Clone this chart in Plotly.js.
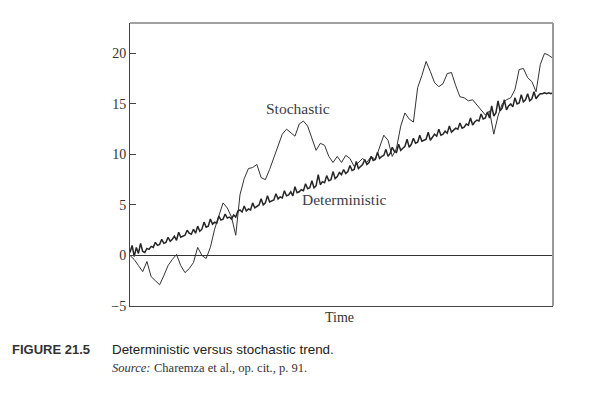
<!DOCTYPE html>
<html>
<head>
<meta charset="utf-8">
<script src="https://cdn.plot.ly/plotly-3.0.1.min.js"></script>
<style>html,body{margin:0;padding:0;background:#fff;}#chart{width:610px;height:397px;}</style>
</head>
<body>
<div id="chart"></div>
<script>
// Stochastic trend: one value every 2 time units (t = 0..200)
const stochasticTime = Array.from({length: 101}, (_, i) => i * 2);
const stochasticValues = [
  0.0, -0.4, -1.0, -1.6, -0.6, -2.1, -2.5, -2.9, -2.0, -1.0,
  -0.4, 0.1, -1.0, -1.7, -1.3, -0.7, 0.8, 0.0, -0.3, 0.8,
  2.6, 3.9, 5.2, 4.7, 3.8, 2.0, 6.0, 7.6, 8.6, 8.7,
  9.0, 7.7, 7.5, 8.5, 9.6, 10.8, 12.0, 12.5, 12.1, 11.8,
  13.0, 13.3, 12.8, 11.7, 10.4, 11.1, 10.9, 9.8, 9.2, 9.8,
  9.2, 9.9, 9.6, 8.8, 9.2, 9.6, 9.2, 9.8, 9.5, 10.8,
  11.9, 11.4, 9.8, 10.6, 12.8, 14.1, 13.5, 13.2, 16.6, 17.8,
  19.2, 18.2, 17.1, 16.7, 17.0, 18.0, 18.1, 16.8, 15.7, 15.6,
  15.3, 15.4, 14.9, 14.4, 13.9, 14.3, 12.0, 13.8, 15.0, 15.4,
  15.6, 16.4, 18.4, 18.5, 17.6, 17.2, 16.2, 18.9, 20.0, 19.8,
  19.5
];
// Deterministic trend: one value every time unit (t = 0..200)
const deterministicTime = Array.from({length: 201}, (_, i) => i);
const deterministicValues = [
  0.3, 1.0, -0.1, 0.8, 0.2, 1.2, 0.4, 0.3, 0.7, 0.6,
  0.9, 0.8, 1.3, 1.0, 1.1, 1.6, 1.2, 1.3, 1.8, 1.4,
  1.6, 1.9, 1.5, 2.3, 1.8, 1.9, 2.0, 2.5, 2.2, 2.1,
  2.6, 2.2, 2.9, 2.4, 2.6, 3.3, 2.8, 2.9, 3.6, 3.1,
  3.3, 3.2, 3.9, 3.5, 3.6, 4.1, 3.7, 3.8, 3.6, 4.0,
  3.8, 4.4, 4.5, 4.3, 4.9, 4.4, 4.6, 4.5, 5.2, 4.7,
  4.9, 5.0, 5.6, 5.0, 5.2, 5.9, 5.3, 5.4, 5.5, 6.1,
  5.6, 5.8, 5.7, 6.4, 5.9, 6.0, 6.3, 5.9, 6.8, 6.2,
  6.3, 6.5, 6.4, 7.1, 6.6, 6.7, 7.4, 6.7, 6.9, 8.0,
  7.0, 7.3, 7.2, 7.9, 7.4, 7.5, 8.3, 7.6, 7.8, 8.2,
  8.0, 8.5, 8.1, 8.3, 8.9, 8.4, 8.5, 9.3, 8.6, 8.8,
  9.0, 9.5, 9.0, 9.2, 9.8, 9.4, 9.5, 10.2, 9.6, 9.8,
  9.9, 10.5, 9.8, 10.1, 10.7, 10.3, 10.2, 11.0, 10.4, 10.6,
  10.8, 11.5, 10.7, 11.0, 11.6, 11.1, 11.2, 11.9, 11.3, 11.4,
  11.5, 12.2, 11.4, 11.7, 12.0, 11.8, 12.5, 11.9, 12.0, 12.3,
  12.1, 12.8, 12.2, 12.4, 12.6, 12.5, 13.1, 12.6, 12.7, 13.0,
  12.9, 13.6, 12.9, 13.2, 13.4, 13.3, 14.0, 13.5, 13.6, 14.2,
  13.6, 14.8, 13.8, 14.1, 15.3, 14.3, 14.6, 15.4, 14.4, 14.8,
  15.0, 14.7, 15.6, 15.0, 15.1, 15.9, 15.2, 15.4, 16.0, 15.3,
  15.5, 16.2, 15.5, 15.8, 16.0, 16.0, 16.1, 16.0, 16.1, 16.0,
  16.1
];
const yTickValues = [-5, 0, 5, 10, 15, 20];
const seriesLabels = ['Stochastic', 'Deterministic'];

const ink = '#333333';
const serif = 'Liberation Serif, Times New Roman, serif';
const sans = 'Liberation Sans, Arial, sans-serif';

const traces = [
  {x: stochasticTime, y: stochasticValues, type: 'scatter', mode: 'lines',
   line: {color: ink, width: 1}, hoverinfo: 'skip', name: seriesLabels[0]},
  {x: deterministicTime, y: deterministicValues, type: 'scatter', mode: 'lines',
   line: {color: '#262626', width: 1.5}, hoverinfo: 'skip', name: seriesLabels[1]}
];

const layout = {
  width: 610, height: 397,
  margin: {l: 130, r: 57, t: 23, b: 91},
  paper_bgcolor: '#ffffff', plot_bgcolor: '#ffffff',
  showlegend: false,
  font: {family: serif, color: ink, size: 14},
  xaxis: {range: [0, 200], showticklabels: false, ticks: '', showgrid: false,
          zeroline: false, showline: true, mirror: false, linecolor: '#444', linewidth: 1},
  yaxis: {range: [-5, 23], tickvals: yTickValues, ticks: 'inside', ticklen: 6,
          tickcolor: '#444', showgrid: false, zeroline: true, zerolinecolor: ink,
          zerolinewidth: 1, showline: true, mirror: false, linecolor: '#444', linewidth: 1,
          tickfont: {family: serif, size: 14, color: ink}},
  shapes: [
    {type: 'line', xref: 'paper', yref: 'paper', x0: 0, x1: 1, y0: 1, y1: 1,
     line: {color: '#444', width: 1}},
    {type: 'line', xref: 'paper', yref: 'paper', x0: 1, x1: 1, y0: 0, y1: 1,
     line: {color: '#9a9a9a', width: 2}}
  ],
  annotations: [
    {x: 79.4, y: 14.5, xref: 'x', yref: 'y', text: seriesLabels[0], showarrow: false,
     font: {family: serif, size: 15.5, color: '#3a3d4a'}},
    {x: 101.2, y: 5.5, xref: 'x', yref: 'y', text: seriesLabels[1], showarrow: false,
     font: {family: serif, size: 15.5, color: '#3a3d4a'}},
    {x: 0.496, y: -0.042, xref: 'paper', yref: 'paper', text: 'Time', showarrow: false,
     xanchor: 'center', yanchor: 'middle', font: {family: serif, size: 14, color: ink}},
    {x: -0.2837, y: -0.152, xref: 'paper', yref: 'paper', text: '<b>FIGURE 21.5</b>', showarrow: false,
     xanchor: 'left', yanchor: 'middle', align: 'left', font: {family: sans, size: 13, color: '#333'}},
    {x: -0.0473, y: -0.152, xref: 'paper', yref: 'paper', text: 'Deterministic versus stochastic trend.', showarrow: false,
     xanchor: 'left', yanchor: 'middle', align: 'left', font: {family: sans, size: 13.4, color: '#222'}},
    {x: -0.0473, y: -0.219, xref: 'paper', yref: 'paper', text: 'Source:', showarrow: false,
     xanchor: 'left', yanchor: 'middle', align: 'left', font: {family: serif, size: 12.5, color: '#333', style: 'italic'}},
    {x: 0.052, y: -0.219, xref: 'paper', yref: 'paper', text: 'Charemza et al., op. cit., p. 91.', showarrow: false,
     xanchor: 'left', yanchor: 'middle', align: 'left', font: {family: serif, size: 12.5, color: '#333'}}
  ]
};

Plotly.newPlot('chart', traces, layout, {staticPlot: true, displayModeBar: false});
</script>
</body>
</html>
